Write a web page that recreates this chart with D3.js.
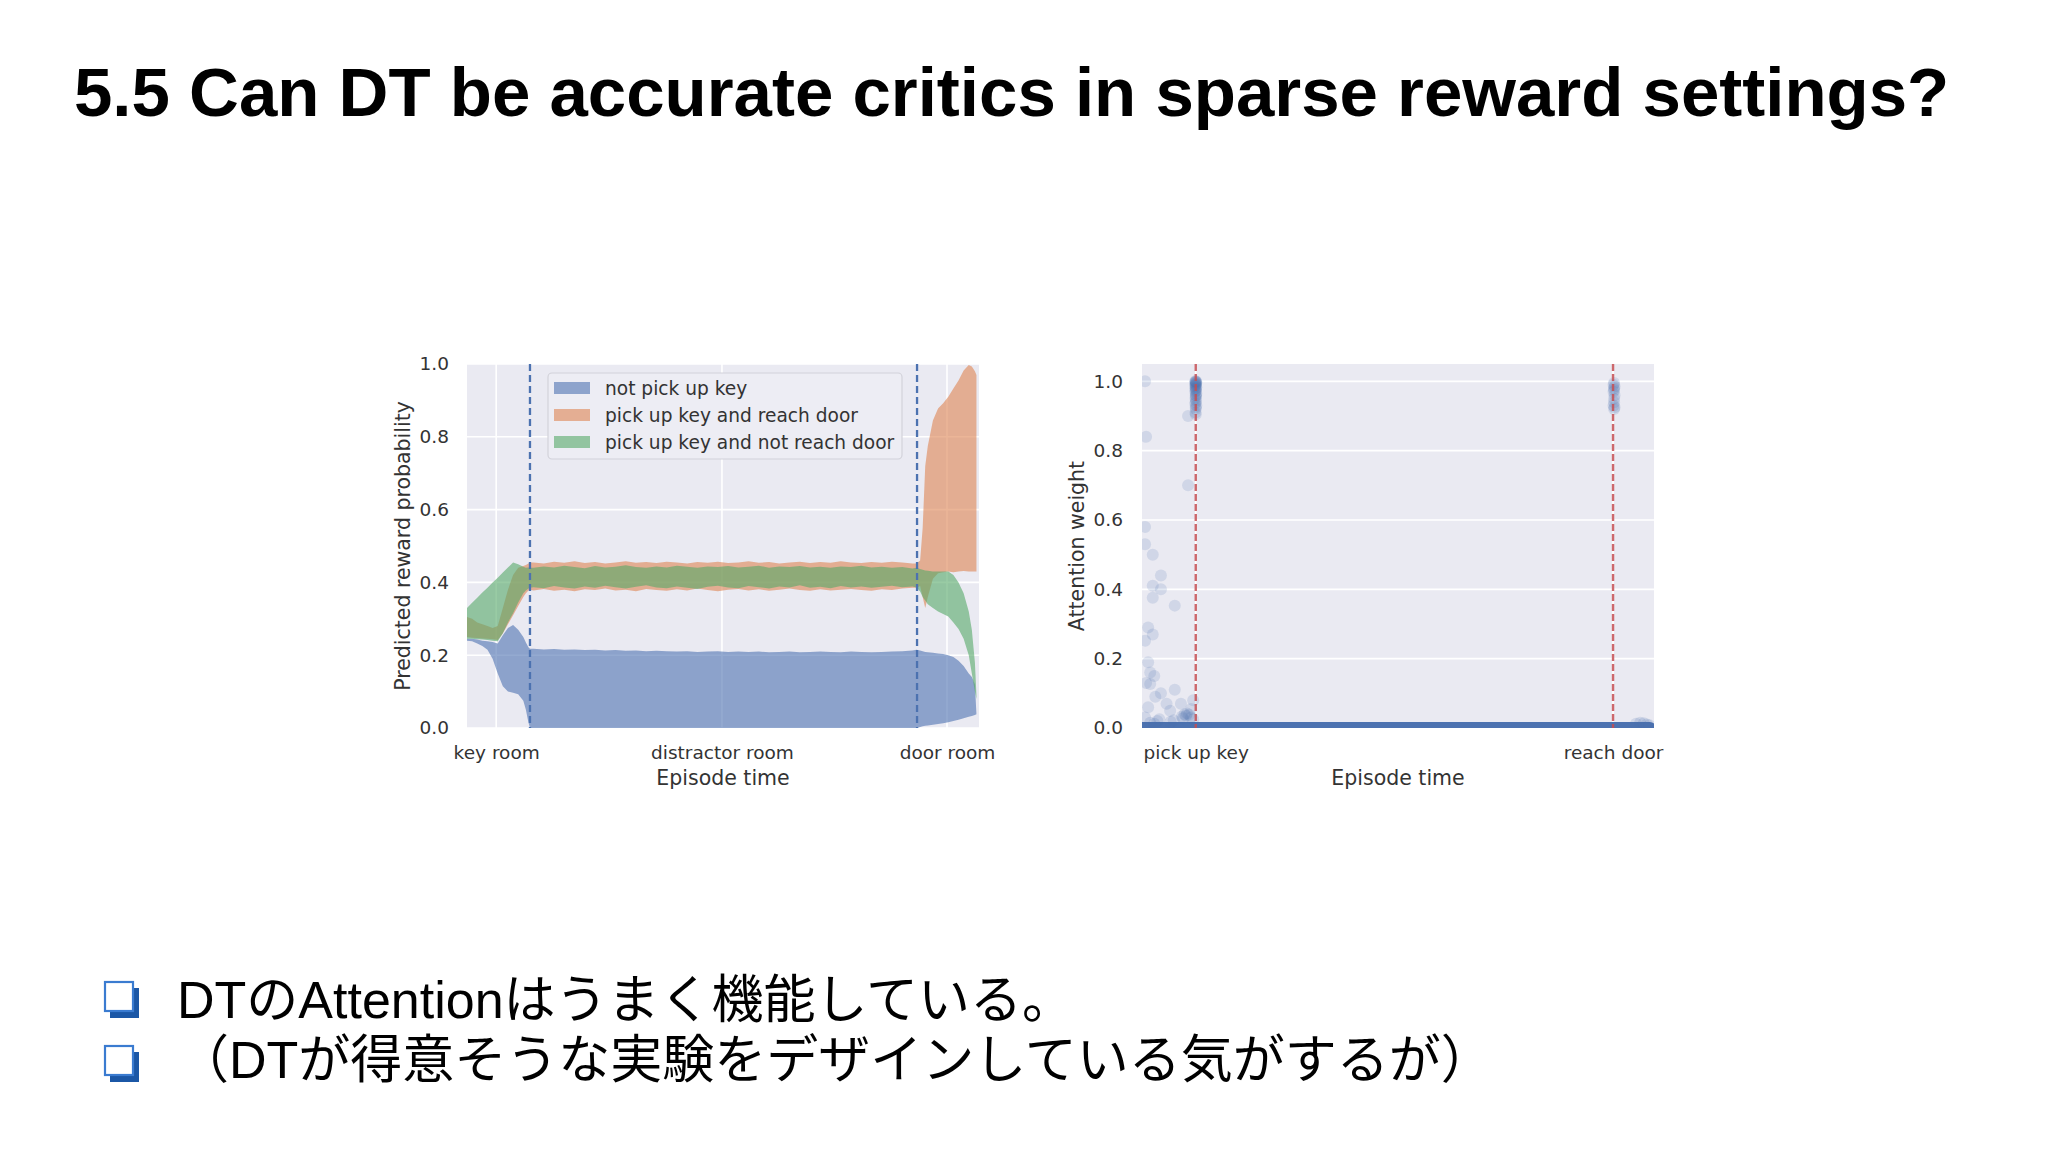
<!DOCTYPE html>
<html><head><meta charset="utf-8">
<script src="https://cdn.jsdelivr.net/npm/d3@7"></script>
<style>body{margin:0;background:#fff}svg{display:block}</style>
</head><body>
<svg id="slide" width="2048" height="1152"></svg>
<script>
// ---------------- DATA ----------------
const titleText = "5.5 Can DT be accurate critics in sparse reward settings?";
const bulletLines = ["DTのAttentionはうまく機能している。", "（DTが得意そうな実験をデザインしている気がするが）"];

const seriesNames = ["not pick up key", "pick up key and reach door", "pick up key and not reach door"];
const leftTime = [0,1,2,3,4,5,6,7,8,9,10,11,11.5,12,12.3,
  13,15,17,19,21,23,25,27,29,31,33,35,37,39,41,43,45,47,49,51,53,55,57,59,61,63,65,67,69,71,73,75,77,79,81,83,85,87,
  87.8,88.5,89,89.5,90,91,92,93,94,95,96,97,98,98.6,99.2,99.5];
const notPickLow = [0.240,0.238,0.232,0.225,0.215,0.19,0.15,0.115,0.10,0.097,0.093,0.075,0.05,0.015,0.0,
  0,0,0,0,0,0,0,0,0,0,0,0,0,0,0,0,0,0,0,0,0,0,0,0,0,0,0,0,0,0,0,0,0,0,0,0,0,0,
  0,0.003,0.005,0.006,0.007,0.009,0.011,0.013,0.016,0.019,0.023,0.027,0.031,0.033,0.036,0.038];
const notPickHigh = [0.245,0.245,0.243,0.240,0.238,0.236,0.232,0.255,0.275,0.283,0.27,0.25,0.235,0.222,0.218,
  0.218,0.216,0.217,0.215,0.216,0.214,0.215,0.213,0.214,0.212,0.213,0.211,0.212,0.211,0.210,0.211,0.209,0.210,0.211,0.209,0.210,0.209,0.210,0.208,0.209,0.210,0.208,0.209,0.210,0.209,0.208,0.210,0.209,0.208,0.209,0.210,0.211,0.213,
  0.215,0.213,0.211,0.209,0.208,0.207,0.205,0.203,0.200,0.195,0.185,0.170,0.150,0.140,0.120,0.038];
const reachLow = [0.25,0.248,0.247,0.246,0.245,0.244,0.242,0.26,0.285,0.31,0.335,0.36,0.37,0.378,0.38,
  0.378,0.382,0.377,0.380,0.376,0.381,0.379,0.383,0.378,0.380,0.376,0.382,0.379,0.377,0.381,0.378,0.383,0.379,0.376,0.380,0.382,0.378,0.381,0.377,0.380,0.383,0.379,0.377,0.381,0.378,0.380,0.382,0.379,0.377,0.381,0.379,0.383,0.385,
  0.385,0.39,0.36,0.33,0.36,0.41,0.425,0.428,0.43,0.428,0.43,0.431,0.43,0.43,0.43,0.43];
const reachHigh = [0.305,0.30,0.29,0.285,0.28,0.275,0.28,0.33,0.38,0.42,0.44,0.445,0.448,0.452,0.455,
  0.455,0.452,0.457,0.454,0.458,0.453,0.456,0.452,0.455,0.458,0.454,0.456,0.453,0.457,0.455,0.452,0.456,0.454,0.457,0.453,0.455,0.458,0.454,0.456,0.452,0.455,0.457,0.453,0.456,0.454,0.458,0.455,0.453,0.456,0.454,0.457,0.455,0.452,
  0.452,0.46,0.55,0.72,0.775,0.845,0.878,0.892,0.91,0.933,0.955,0.982,0.997,0.993,0.98,0.97];
const noReachLow = [0.245,0.245,0.244,0.243,0.242,0.24,0.238,0.26,0.29,0.315,0.345,0.37,0.378,0.383,0.385,
  0.387,0.384,0.390,0.386,0.383,0.389,0.385,0.391,0.387,0.383,0.388,0.392,0.386,0.384,0.389,0.385,0.382,0.388,0.391,0.386,0.384,0.390,0.387,0.383,0.389,0.386,0.392,0.385,0.388,0.384,0.390,0.386,0.389,0.385,0.388,0.391,0.387,0.389,
  0.386,0.375,0.36,0.35,0.34,0.33,0.32,0.313,0.306,0.29,0.272,0.245,0.2,0.15,0.10,0.08];
const noReachHigh = [0.33,0.344,0.358,0.372,0.385,0.40,0.413,0.427,0.441,0.455,0.45,0.443,0.44,0.441,0.44,
  0.440,0.444,0.441,0.446,0.442,0.439,0.445,0.441,0.443,0.447,0.442,0.440,0.444,0.441,0.446,0.443,0.440,0.444,0.442,0.445,0.441,0.443,0.446,0.440,0.444,0.442,0.445,0.441,0.443,0.440,0.444,0.442,0.446,0.441,0.443,0.440,0.442,0.438,
  0.44,0.437,0.435,0.433,0.432,0.43,0.43,0.43,0.43,0.42,0.40,0.37,0.32,0.27,0.18,0.09];
const leftXTicks = [5.7, 49.8, 93.75];
const leftXTickLabels = ["key room", "distractor room", "door room"];
const leftMarkers = [12.3, 87.9];
const yTicks = [0, 0.2, 0.4, 0.6, 0.8, 1.0];

const rightXTicks = [10.5, 92.0];
const rightXTickLabels = ["pick up key", "reach door"];
const rightMarkers = [10.5, 92.0];
const attnTime = [0.6,0.8,9.0,9.0,0.6,0.6,2.1,3.7,2.1,3.7,2.1,6.4,1.2,2.1,0.6,1.2,1.6,1.6,2.4,0.8,3.7,6.4,1.2,4.8,7.6,9.6,10.0,2.6,5.5,0.6,
  3.0,3.4,5.6,6.2,7.8,8.3,8.8,9.2,9.6,10.0,8.0,8.6,1.6,2.4,
  10.5,10.4,10.6,10.5,10.4,10.6,10.5,10.45,10.55,10.5,10.4,10.6,10.5,10.45,10.55,10.5,10.4,10.6,10.5,10.5,10.45,10.55,10.5,10.4,10.6,10.5,10.5,10.45,10.5,10.55,
  92.2,92.1,92.3,92.2,92.2,92.1,92.3,92.2,92.2,92.1,92.3,92.2,
  96.5,97.3,98.0,98.6,99.1];
const attnWeight = [1.0,0.84,0.90,0.70,0.58,0.53,0.50,0.44,0.41,0.40,0.376,0.353,0.29,0.27,0.252,0.19,0.16,0.127,0.15,0.13,0.10,0.11,0.06,0.07,0.07,0.055,0.08,0.09,0.05,0.03,
  0.02,0.025,0.018,0.022,0.033,0.04,0.042,0.038,0.03,0.025,0.028,0.035,0.015,0.012,
  1.0,1.0,0.999,0.998,0.996,0.995,0.993,0.99,0.99,0.988,0.985,0.983,0.98,0.978,0.975,0.972,0.97,0.965,0.96,0.955,0.95,0.945,0.94,0.935,0.93,0.925,0.92,0.91,0.905,0.96,
  0.995,0.99,0.985,0.98,0.975,0.97,0.96,0.95,0.94,0.93,0.925,0.92,
  0.012,0.015,0.014,0.01,0.008];
const baselineTime = [0, 99.2];
const baselineWeight = [0, 0];

// ---------------- DRAW ----------------
const svg = d3.select("#slide");
svg.append("rect").attr("width", 2048).attr("height", 1152).attr("fill", "#fff");
const deep = ["#4C72B0", "#DD8452", "#55A868", "#C44E52"];
const bg = "#EAEAF2";
const chartFont = "DejaVu Sans, sans-serif";
const txtCol = "#333";
const tickSize = 18.5, labelSize = 20.5;

svg.append("text").attr("x", 74).attr("y", 116)
  .attr("font-family", "Liberation Sans, Arial, sans-serif").attr("font-weight", "bold")
  .attr("font-size", 69).attr("fill", "#000").text(titleText);

// left chart
const L = {x0: 467, x1: 979, y0: 364, y1: 728};
const xL = d3.scaleLinear().domain([0, 100]).range([L.x0, L.x1]);
const yL = d3.scaleLinear().domain([0, 1]).range([L.y1, L.y0]);
const gL = svg.append("g");
gL.append("rect").attr("x", L.x0).attr("y", L.y0).attr("width", L.x1 - L.x0).attr("height", L.y1 - L.y0).attr("fill", bg);
gL.selectAll("line.gy").data(yTicks).join("line").attr("x1", L.x0).attr("x2", L.x1)
  .attr("y1", d => yL(d)).attr("y2", d => yL(d)).attr("stroke", "#fff").attr("stroke-width", 1.6);
gL.selectAll("line.gx").data(leftXTicks).join("line").attr("y1", L.y0).attr("y2", L.y1)
  .attr("x1", d => xL(d)).attr("x2", d => xL(d)).attr("stroke", "#fff").attr("stroke-width", 1.6);
svg.append("clipPath").attr("id", "clipL").append("rect").attr("x", L.x0).attr("y", L.y0).attr("width", L.x1 - L.x0).attr("height", L.y1 - L.y0);
const bands = [[notPickLow, notPickHigh], [reachLow, reachHigh], [noReachLow, noReachHigh]];
const area = (lo, hi) => d3.area().x((d, i) => xL(leftTime[i])).y0((d, i) => yL(lo[i])).y1((d, i) => yL(hi[i]))(leftTime);
const gA = gL.append("g").attr("clip-path", "url(#clipL)");
bands.forEach((b, k) => gA.append("path").attr("d", area(b[0], b[1])).attr("fill", deep[k]).attr("fill-opacity", 0.6));
gA.selectAll("line.mk").data(leftMarkers).join("line").attr("x1", d => xL(d)).attr("x2", d => xL(d))
  .attr("y1", L.y0).attr("y2", L.y1).attr("stroke", deep[0]).attr("stroke-width", 2.3).attr("stroke-dasharray", "7,4");
// legend
const lg = gL.append("g");
lg.append("rect").attr("x", 548).attr("y", 373).attr("width", 354).attr("height", 86).attr("rx", 4)
  .attr("fill", "#EDEDF4").attr("stroke", "#D2D2DA").attr("stroke-width", 1.2);
seriesNames.forEach((n, k) => {
  const cy = 388 + k * 27;
  lg.append("rect").attr("x", 554).attr("y", cy - 6).attr("width", 36).attr("height", 12).attr("fill", deep[k]).attr("fill-opacity", 0.6);
  lg.append("text").attr("x", 605).attr("y", cy).attr("dy", "0.35em").attr("font-family", chartFont).attr("font-size", 18.6).attr("fill", txtCol).text(n);
});
// axes
const axYL = d3.axisLeft(yL).tickValues(yTicks).tickFormat(d3.format(".1f")).tickSize(0).tickPadding(18);
const axXL = d3.axisBottom(xL).tickValues(leftXTicks).tickFormat((d, i) => leftXTickLabels[i]).tickSize(0).tickPadding(18);
function styleAxis(g) { g.select(".domain").remove(); g.selectAll("text").attr("font-family", chartFont).attr("font-size", tickSize).attr("fill", txtCol); }
svg.append("g").attr("transform", `translate(${L.x0},0)`).call(axYL).call(styleAxis);
svg.append("g").attr("transform", `translate(0,${L.y1})`).call(axXL).call(styleAxis);
svg.append("text").attr("transform", "translate(403,546) rotate(-90)").attr("text-anchor", "middle").attr("dy", "0.35em")
  .attr("font-family", chartFont).attr("font-size", labelSize).attr("fill", txtCol).text("Predicted reward probability");
svg.append("text").attr("x", (L.x0 + L.x1) / 2).attr("y", 785).attr("text-anchor", "middle")
  .attr("font-family", chartFont).attr("font-size", labelSize).attr("fill", txtCol).text("Episode time");

// right chart
const R = {x0: 1142, x1: 1654, y0: 364, y1: 728};
const xR = d3.scaleLinear().domain([0, 100]).range([R.x0, R.x1]);
const yR = d3.scaleLinear().domain([0, 1.05]).range([R.y1, R.y0]);
const gR = svg.append("g");
gR.append("rect").attr("x", R.x0).attr("y", R.y0).attr("width", R.x1 - R.x0).attr("height", R.y1 - R.y0).attr("fill", bg);
gR.selectAll("line.gy").data(yTicks).join("line").attr("x1", R.x0).attr("x2", R.x1)
  .attr("y1", d => yR(d)).attr("y2", d => yR(d)).attr("stroke", "#fff").attr("stroke-width", 1.6);
gR.selectAll("line.gx").data(rightXTicks).join("line").attr("y1", R.y0).attr("y2", R.y1)
  .attr("x1", d => xR(d)).attr("x2", d => xR(d)).attr("stroke", "#fff").attr("stroke-width", 1.6);
svg.append("clipPath").attr("id", "clipR").append("rect").attr("x", R.x0).attr("y", R.y0).attr("width", R.x1 - R.x0).attr("height", R.y1 - R.y0);
const gS = gR.append("g").attr("clip-path", "url(#clipR)");
gS.append("path").attr("d", d3.line().x((d, i) => xR(baselineTime[i])).y((d, i) => yR(baselineWeight[i]))(baselineTime))
  .attr("stroke", deep[0]).attr("stroke-width", 12).attr("stroke-linecap", "round").attr("fill", "none");
gS.selectAll("circle").data(attnTime).join("circle").attr("cx", d => xR(d)).attr("cy", (d, i) => yR(attnWeight[i]))
  .attr("r", 6).attr("fill", deep[0]).attr("fill-opacity", 0.16);
gS.selectAll("line.mk").data(rightMarkers).join("line").attr("x1", d => xR(d)).attr("x2", d => xR(d))
  .attr("y1", R.y0).attr("y2", R.y1).attr("stroke", deep[3]).attr("stroke-opacity", 0.85).attr("stroke-width", 2.4).attr("stroke-dasharray", "7,3");
const axYR = d3.axisLeft(yR).tickValues(yTicks).tickFormat(d3.format(".1f")).tickSize(0).tickPadding(19);
const axXR = d3.axisBottom(xR).tickValues(rightXTicks).tickFormat((d, i) => rightXTickLabels[i]).tickSize(0).tickPadding(18);
svg.append("g").attr("transform", `translate(${R.x0},0)`).call(axYR).call(styleAxis);
svg.append("g").attr("transform", `translate(0,${R.y1})`).call(axXR).call(styleAxis);
svg.append("text").attr("transform", "translate(1077,546) rotate(-90)").attr("text-anchor", "middle").attr("dy", "0.35em")
  .attr("font-family", chartFont).attr("font-size", labelSize).attr("fill", txtCol).text("Attention weight");
svg.append("text").attr("x", (R.x0 + R.x1) / 2).attr("y", 785).attr("text-anchor", "middle")
  .attr("font-family", chartFont).attr("font-size", labelSize).attr("fill", txtCol).text("Episode time");

// bullets
const bulletTop = [982, 1046];
const bulletBase = [1018, 1078];
bulletLines.forEach((t, i) => {
  svg.append("rect").attr("x", 110).attr("y", bulletTop[i] + 6).attr("width", 29).attr("height", 30).attr("fill", "#1B57A6");
  svg.append("rect").attr("x", 105).attr("y", bulletTop[i]).attr("width", 28).attr("height", 29).attr("fill", "#fff")
    .attr("stroke", "#3A7BD0").attr("stroke-width", 2.2);
  svg.append("text").attr("x", 177).attr("y", bulletBase[i])
    .attr("font-family", "Liberation Sans, Arial, 'Noto Sans CJK JP', sans-serif").attr("font-size", 52).attr("fill", "#000").text(t);
});
</script>
</body></html>
